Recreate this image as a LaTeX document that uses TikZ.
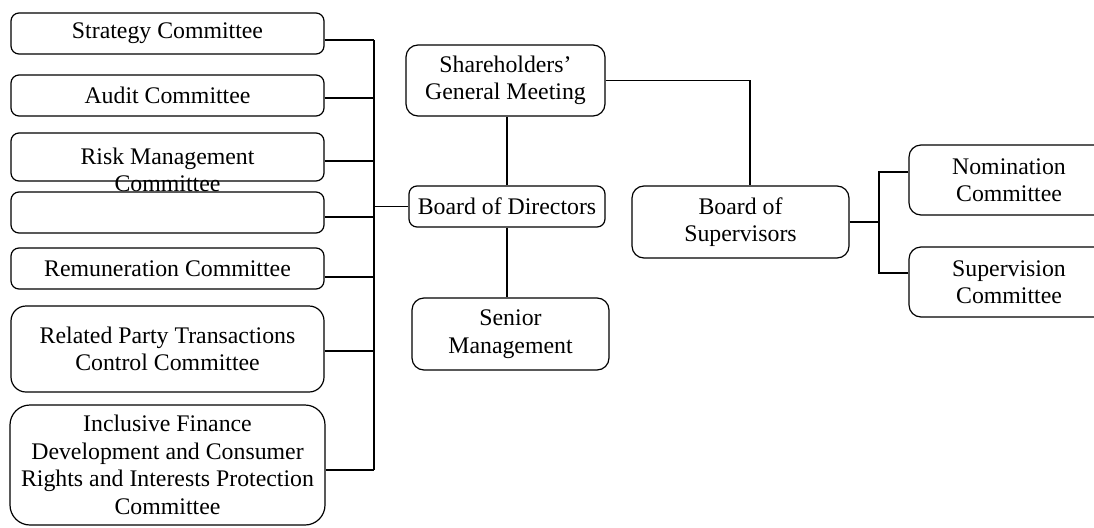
\documentclass[tikz,border=0pt]{standalone}
\usepackage{fontspec}
\setmainfont{Liberation Serif}
\begin{document}
\begin{tikzpicture}[x=1pt,y=-1pt,
  box/.style={draw, line width=1.2pt, rounded corners=8pt, align=center, inner sep=0pt,
    font=\fontsize{23.8}{27.5}\selectfont},
  txt/.style={align=center, inner sep=0pt, font=\fontsize{23.8}{27.5}\selectfont},
  link/.style={line width=1.2pt}]
\useasboundingbox (0,0) rectangle (1094,527);
\clip (0,0) rectangle (1094,527);
% left committees
\node[box, minimum width=313pt, minimum height=41pt] (strat) at (167.5,33.5) {Strategy Committee};
\node[box, minimum width=313pt, minimum height=41pt] (audit) at (167.5,95.5) {Audit Committee};
\node[box, minimum width=313pt, minimum height=48pt] (risk) at (167.5,157) {};
\node[txt] at (167.5,170) {Risk Management\\Committee};
\node[box, minimum width=313pt, minimum height=41pt] (blank) at (167.5,212.5) {};
\node[box, minimum width=313pt, minimum height=41pt] (remun) at (167.5,268.5) {Remuneration Committee};
\node[box, minimum width=313pt, minimum height=86pt, rounded corners=15pt] (rel) at (167.5,349) {Related Party Transactions\\Control Committee};
\node[box, minimum width=315pt, minimum height=120pt, rounded corners=20pt] (incl) at (167.5,465) {Inclusive Finance\\Development and Consumer\\Rights and Interests Protection\\Committee};
% centre
\node[box, minimum width=199pt, minimum height=71pt, rounded corners=12pt] (sh) at (505.5,80.5) {Shareholders'\\General Meeting};
\node[box, minimum width=196pt, minimum height=41pt] (bod) at (507,206.5) {Board of Directors};
\node[box, minimum width=197pt, minimum height=72pt, rounded corners=12pt] (sen) at (510.5,334) {Senior\\Management};
\node[box, minimum width=217pt, minimum height=72pt, rounded corners=12pt] (bos) at (740.5,222) {Board of\\Supervisors};
% right committees
\node[box, minimum width=200pt, minimum height=70pt, rounded corners=12pt] (nom) at (1009,180) {Nomination\\Committee};
\node[box, minimum width=200pt, minimum height=70pt, rounded corners=12pt] (sup) at (1009,282) {Supervision\\Committee};
% connectors
\coordinate (spt) at (374,40);
\coordinate (spb) at (374,470);
\coordinate (lj) at (374,206.5);
\coordinate (sj) at (879,222);
\draw[link] (spt) -- (spb);
\draw[link] (strat.east |- 0,40) -- (spt);
\draw[link] (audit.east |- 0,98) -- (374,98);
\draw[link] (risk.east |- 0,161) -- (374,161);
\draw[link] (blank.east |- 0,217) -- (374,217);
\draw[link] (remun.east |- 0,277) -- (374,277);
\draw[link] (rel.east |- 0,351) -- (374,351);
\draw[link] (incl.east |- 0,470) -- (spb);
\draw[link] (lj) -- (bod.west);
\draw[link] (bod.north |- sh.south) -- (bod.north);
\draw[link] (bod.south) -- (bod.south |- sen.north);
\draw[link] (sh.east) -| ([xshift=9.5pt]bos.north);
\draw[link, line width=1.8pt] (bos.east) -- (sj);
\draw[link] (nom.west |- 0,172) -| (sj) |- (sup.west |- 0,273);
\end{tikzpicture}
\end{document}
